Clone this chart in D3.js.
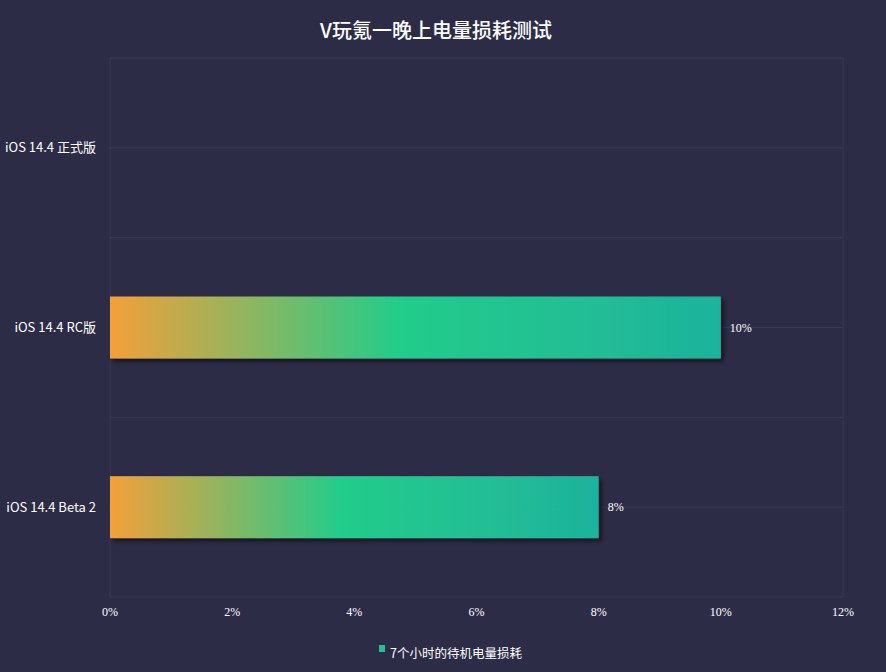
<!DOCTYPE html>
<html>
<head>
<meta charset="utf-8">
<title>V玩氪一晚上电量损耗测试</title>
<style type="text/css">
    body { margin: 0; background: #2d2c47; }
    .title { font: 500 20px "Noto Sans CJK SC", sans-serif; fill: #fff; }
    .cat { font: 13px "Noto Sans CJK SC", "Noto Sans", sans-serif; fill: #fff; }
    .tick-label, .value { font: 12px "Liberation Serif", "DejaVu Serif", serif; fill: #fff; }
    .legend { font: 12.5px "Noto Sans CJK SC", sans-serif; fill: #fff; }
</style>
</head>
<body>
<svg width="886" height="672"></svg>
<script src="https://cdnjs.cloudflare.com/ajax/libs/d3/7.8.5/d3.min.js"></script>
<script type="text/javascript">
var categories = ["iOS 14.4 正式版", "iOS 14.4 RC版", "iOS 14.4 Beta 2"];
var values = [null, 10, 8];
var xTicks = [0, 2, 4, 6, 8, 10, 12];
var seriesName = "7个小时的待机电量损耗";
var chartTitle = "V玩氪一晚上电量损耗测试";

var svg = d3.select("svg"),
    margin = { top: 58, right: 43, bottom: 75, left: 110 },
    width = 886 - margin.left - margin.right,
    height = 672 - margin.top - margin.bottom;

var x = d3.scaleLinear().domain([0, 12]).range([0, width]);
var y = d3.scaleBand().domain(categories).range([0, height]);
var barH = y.bandwidth() * 0.345;

var defs = svg.append("defs");
var grad = defs.append("linearGradient")
    .attr("id", "barGrad")
    .attr("x1", "0%").attr("x2", "100%").attr("y1", "0%").attr("y2", "0%");
grad.append("stop").attr("offset", "0%").attr("stop-color", "#f3a03a");
grad.append("stop").attr("offset", "47%").attr("stop-color", "#24cc8a");
grad.append("stop").attr("offset", "100%").attr("stop-color", "#1eb39c");

var shadow = defs.append("filter").attr("id", "shadow")
    .attr("x", "-5%").attr("y", "-20%").attr("width", "115%").attr("height", "150%");
shadow.append("feDropShadow")
    .attr("dx", 3).attr("dy", 3).attr("stdDeviation", 2)
    .attr("flood-color", "#000").attr("flood-opacity", 0.55);

svg.append("text")
    .attr("class", "title")
    .attr("x", 436).attr("y", 38)
    .attr("text-anchor", "middle")
    .text(chartTitle);

var g = svg.append("g").attr("transform", "translate(" + margin.left + "," + margin.top + ")");

// grid: band edges and band centres
var gridY = [];
categories.forEach(function(c) {
    gridY.push(y(c), y(c) + y.bandwidth() / 2);
});
gridY.push(height);

g.selectAll(".hgrid")
    .data(gridY)
    .enter().append("line")
    .attr("class", "hgrid")
    .attr("x1", 0).attr("x2", width)
    .attr("y1", function(d) { return d; })
    .attr("y2", function(d) { return d; })
    .attr("stroke", "#3a3955").attr("stroke-width", 1);

g.selectAll(".vgrid")
    .data([0, width])
    .enter().append("line")
    .attr("class", "vgrid")
    .attr("x1", function(d) { return d; }).attr("x2", function(d) { return d; })
    .attr("y1", 0).attr("y2", height)
    .attr("stroke", "#3a3955").attr("stroke-width", 1);

// category labels
g.selectAll(".cat")
    .data(categories)
    .enter().append("text")
    .attr("class", "cat")
    .attr("x", -14)
    .attr("y", function(d) { return y(d) + y.bandwidth() / 2; })
    .attr("dy", "0.35em")
    .attr("text-anchor", "end")
    .text(function(d) { return d; });

// x tick labels
g.selectAll(".tick-label")
    .data(xTicks)
    .enter().append("text")
    .attr("class", "tick-label")
    .attr("x", function(d) { return x(d); })
    .attr("y", height + 19)
    .attr("text-anchor", "middle")
    .text(function(d) { return d + "%"; });

var rows = categories.map(function(c, i) { return { cat: c, value: values[i] }; })
    .filter(function(d) { return d.value != null; });

g.selectAll(".bar")
    .data(rows)
    .enter().append("rect")
    .attr("class", "bar")
    .attr("x", 0)
    .attr("y", function(d) { return y(d.cat) + (y.bandwidth() - barH) / 2; })
    .attr("width", function(d) { return x(d.value); })
    .attr("height", barH)
    .attr("fill", "url(#barGrad)")
    .attr("filter", "url(#shadow)");

g.selectAll(".value")
    .data(rows)
    .enter().append("text")
    .attr("class", "value")
    .attr("x", function(d) { return x(d.value) + 9; })
    .attr("y", function(d) { return y(d.cat) + y.bandwidth() / 2; })
    .attr("dy", "0.35em")
    .text(function(d) { return d.value + "%"; });

// legend
var lg = svg.append("g").attr("transform", "translate(379,645)");
lg.append("rect").attr("width", 6).attr("height", 7).attr("fill", "#24c08f");
lg.append("text").attr("class", "legend").attr("x", 11).attr("y", 13).text(seriesName);
</script>
</body>
</html>
